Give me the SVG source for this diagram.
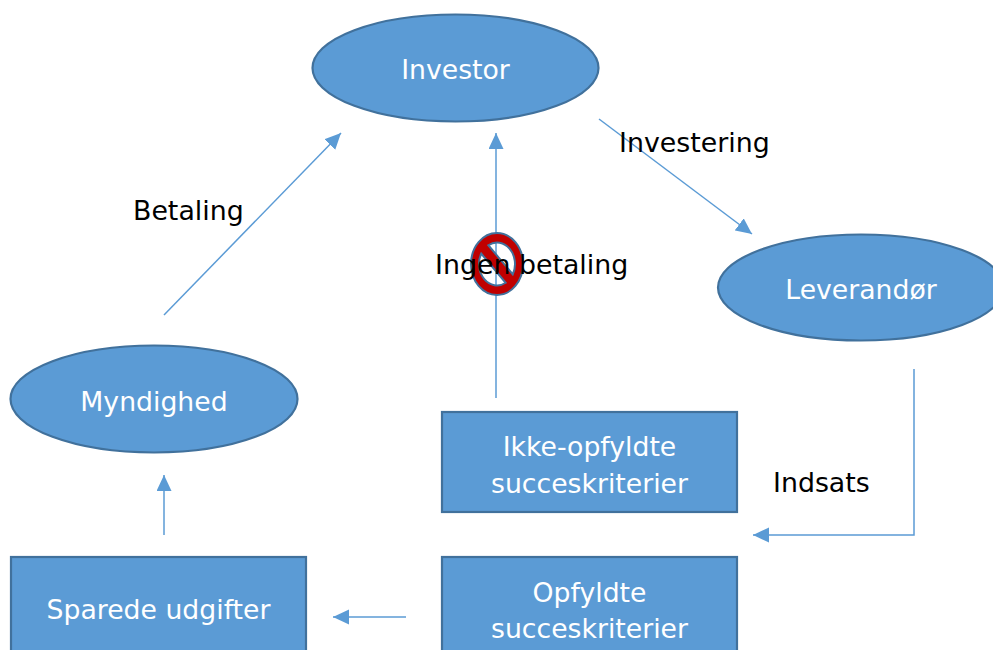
<svg xmlns="http://www.w3.org/2000/svg" width="993" height="650" viewBox="0 0 993 650">
<defs>
<marker id="arr" markerUnits="userSpaceOnUse" markerWidth="18" markerHeight="16" refX="16" refY="7.5" orient="auto">
<path d="M0,0 L16,7.5 L0,15 Z" fill="#5B9BD5"/>
</marker>
</defs>
<style>
.node{fill:#5B9BD5;stroke:#41719C;stroke-width:2.2}
.nt{font-family:"DejaVu Sans",Verdana,sans-serif;font-size:26.7px;fill:#ffffff;text-anchor:middle}
.lbl{font-family:"DejaVu Sans",Verdana,sans-serif;font-size:26.8px;fill:#000000}
.conn{fill:none;stroke:#5B9BD5;stroke-width:1.5}
</style>
<rect width="993" height="650" fill="#ffffff"/>
<g id="connectors">
<line class="conn" x1="164" y1="315" x2="341" y2="133" marker-end="url(#arr)"/>
<line class="conn" x1="496" y1="398" x2="496" y2="133" marker-end="url(#arr)"/>
<line class="conn" x1="599" y1="119" x2="752" y2="234" marker-end="url(#arr)"/>
<polyline class="conn" points="914,369 914,535 753,535" marker-end="url(#arr)"/>
<line class="conn" x1="406" y1="617" x2="333" y2="617" marker-end="url(#arr)"/>
<line class="conn" x1="164" y1="535" x2="164" y2="475" marker-end="url(#arr)"/>
</g>
<g id="investor">
<ellipse class="node" cx="455.5" cy="68" rx="143" ry="53.5"/>
<text class="nt" x="455.5" y="79">Investor</text>
</g>
<g id="leverandor">
<ellipse class="node" cx="861" cy="287.5" rx="143" ry="53"/>
<text class="nt" x="861" y="299">Leverandør</text>
</g>
<g id="myndighed">
<ellipse class="node" cx="154" cy="399" rx="143.5" ry="53.5"/>
<text class="nt" x="154" y="411">Myndighed</text>
</g>
<g id="ikke-opfyldte">
<rect class="node" x="442" y="412" width="295" height="100"/>
<text class="nt" x="589.5" y="456">Ikke-opfyldte</text>
<text class="nt" x="589.5" y="493">succeskriterier</text>
</g>
<g id="opfyldte">
<rect class="node" x="442" y="557" width="295" height="100"/>
<text class="nt" x="589.5" y="602">Opfyldte</text>
<text class="nt" x="589.5" y="638">succeskriterier</text>
</g>
<g id="sparede">
<rect class="node" x="11" y="557" width="295" height="100"/>
<text class="nt" x="158.5" y="619">Sparede udgifter</text>
</g>
<g id="no-sign" transform="translate(497,264) scale(1,1.19)">
<path d="M -26 0 A 26 26 0 1 1 26 0 A 26 26 0 1 1 -26 0 Z M -8.69 -15.76 A 18 18 0 0 1 15.76 8.69 Z M 8.69 15.76 A 18 18 0 0 1 -15.76 -8.69 Z" fill="#C00000" fill-rule="evenodd" stroke="#41719C" stroke-width="2" vector-effect="non-scaling-stroke"/>
</g>
<g id="labels">
<text class="lbl" x="133" y="220">Betaling</text>
<text class="lbl" x="619" y="152">Investering</text>
<text class="lbl" x="435" y="274">Ingen betaling</text>
<text class="lbl" x="773" y="492">Indsats</text>
</g>
</svg>
